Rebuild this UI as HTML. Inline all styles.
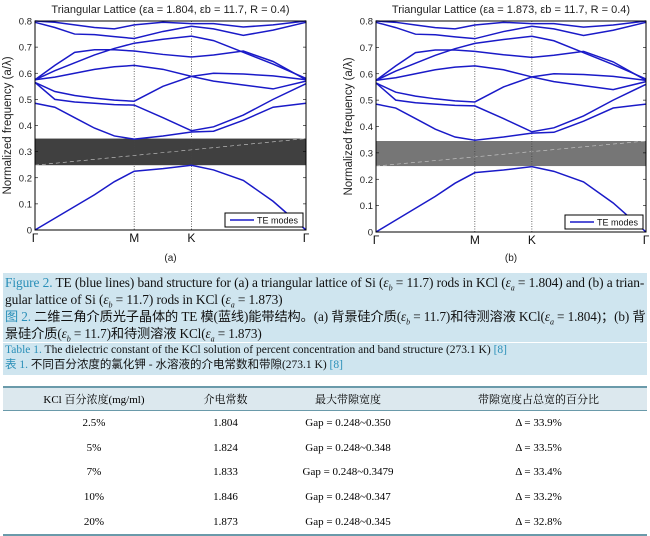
<!DOCTYPE html>
<html><head><meta charset="utf-8"><style>
body{margin:0;width:650px;height:525px;background:#fff;overflow:hidden;font-family:"Liberation Serif","Noto Serif CJK SC",serif;position:relative}
.cap{position:absolute;left:3px;width:640px;background:#cfe5ef;color:#111;padding:0 2px}
.ln{white-space:nowrap;height:17px;line-height:17px}
.blue{color:#2a8fb8}
.cjk{font-family:"Liberation Serif","Noto Sans CJK SC",sans-serif}
table{position:absolute;left:3px;top:386px;width:644px;border-collapse:collapse;font-size:11px}
th{background:#dce8ee;font-weight:normal;height:20px;border-top:2px solid #6a9aaa;border-bottom:1px solid #6a9aaa}
td{text-align:center;height:22.6px}
tr:last-child td{border-bottom:2px solid #6a9aaa}
sub{font-size:8px}
</style></head><body>
<svg id="chart" width="650" height="265" style="position:absolute;left:0;top:0" font-family="Liberation Sans, sans-serif"></svg>
<div class="cap" style="top:273px;height:68px;padding-top:1px;font-size:13.4px">
<div class="ln" style="letter-spacing:-0.1px"><span class="blue">Figure 2.</span> TE (blue lines) band structure for (a) a triangular lattice of Si (<i>ε<sub>b</sub></i> = 11.7) rods in KCl (<i>ε<sub>a</sub></i> = 1.804) and (b) a trian-</div>
<div class="ln" style="letter-spacing:-0.1px">gular lattice of Si (<i>ε<sub>b</sub></i> = 11.7) rods in KCl (<i>ε<sub>a</sub></i> = 1.873)</div>
<div class="ln cjk" style="font-size:13.2px;letter-spacing:-0.1px"><span class="blue">图 2.</span> 二维三角介质光子晶体的 TE 模(蓝线)能带结构。(a) 背景硅介质(<i>ε<sub>b</sub></i> = 11.7)和待测溶液 KCl(<i>ε<sub>a</sub></i> = 1.804)；(b) 背</div>
<div class="ln cjk" style="font-size:13.2px;letter-spacing:-0.1px">景硅介质(<i>ε<sub>b</sub></i> = 11.7)和待测溶液 KCl(<i>ε<sub>a</sub></i> = 1.873)</div>
</div>
<div class="cap" style="top:343px;height:32px;font-size:11.5px">
<div class="ln" style="height:15px;line-height:15px"><span class="blue">Table 1.</span> The dielectric constant of the KCl solution of percent concentration and band structure (273.1 K) <span class="blue">[8]</span></div>
<div class="ln cjk" style="height:15px;line-height:15px"><span class="blue">表 1.</span> 不同百分浓度的氯化钾 - 水溶液的介电常数和带隙(273.1 K) <span class="blue">[8]</span></div>
</div>
<table>
<tr><th>KCl 百分浓度(mg/ml)</th><th>介电常数</th><th>最大带隙宽度</th><th>带隙宽度占总宽的百分比</th></tr>
<tr><td>2.5%</td><td>1.804</td><td>Gap = 0.248~0.350</td><td>Δ = 33.9%</td></tr>
<tr><td>5%</td><td>1.824</td><td>Gap = 0.248~0.348</td><td>Δ = 33.5%</td></tr>
<tr><td>7%</td><td>1.833</td><td>Gap = 0.248~0.3479</td><td>Δ = 33.4%</td></tr>
<tr><td>10%</td><td>1.846</td><td>Gap = 0.248~0.347</td><td>Δ = 33.2%</td></tr>
<tr><td>20%</td><td>1.873</td><td>Gap = 0.248~0.345</td><td>Δ = 32.8%</td></tr>
</table>
<script>
const kPoints=[0,0.2,0.4,0.6,0.8,1,1.29,1.577,1.8,2.1,2.4,2.732];
const symLabels=["Γ","M","K","Γ"];
const symPos=[0,1,1.577,2.732];
const yTicks=[0,0.1,0.2,0.3,0.4,0.5,0.6,0.7,0.8];
const b1=[0,0.045,0.09,0.135,0.185,0.225,0.235,0.248,0.23,0.19,0.11,0];
const b2=[0.485,0.47,0.43,0.39,0.36,0.348,0.36,0.375,0.378,0.42,0.47,0.485];
const b3=[0.565,0.5,0.49,0.485,0.48,0.478,0.43,0.38,0.395,0.44,0.5,0.56];
const b4=[0.565,0.53,0.515,0.505,0.497,0.493,0.55,0.588,0.57,0.555,0.54,0.57];
const b5=[0.575,0.585,0.6,0.615,0.625,0.63,0.615,0.588,0.6,0.597,0.59,0.575];
const b6=[0.575,0.63,0.68,0.69,0.69,0.685,0.672,0.662,0.67,0.685,0.645,0.575];
const b7=[0.575,0.61,0.64,0.67,0.695,0.715,0.73,0.742,0.725,0.68,0.635,0.58];
const b8=[0.795,0.775,0.75,0.748,0.74,0.733,0.76,0.78,0.77,0.745,0.765,0.795];
const b9=[0.8,0.795,0.785,0.775,0.77,0.785,0.795,0.79,0.79,0.777,0.785,0.8];
const bands=[b1,b2,b3,b4,b5,b6,b7,b8,b9];
const epsA=["1.804","1.873"];
const gapLo=[0.248,0.25];
const gapHi=[0.35,0.345];
const panels=[{x0:35,x1:306,y0:21,y1:230,fill:"#404040",lab:"(a)"},{x0:376,x1:646,y0:21,y1:232,fill:"#767676",lab:"(b)"}];
const svg=document.getElementById('chart');
const NS="http://www.w3.org/2000/svg";
function mk(t,a,p){const e=document.createElementNS(NS,t);for(const k in a)e.setAttribute(k,a[k]);(p||svg).appendChild(e);return e;}
panels.forEach((P,i)=>{
 const sx=k=>P.x0+k/2.732*(P.x1-P.x0);
 const sy=f=>P.y1-f/0.8*(P.y1-P.y0);
 const g=mk('g',{});
 
 
 const t=mk('text',{x:(P.x0+P.x1)/2,y:13,'text-anchor':'middle','font-size':11,fill:'#222'},g);
 t.textContent='Triangular Lattice (εa = '+epsA[i]+', εb = 11.7, R = 0.4)';
 
 
 const gap=mk('rect',{x:P.x0,y:sy(gapHi[i]),width:P.x1-P.x0,height:sy(gapLo[i])-sy(gapHi[i]),fill:P.fill},g);
 
 
 mk('line',{x1:P.x0,y1:sy(gapLo[i]),x2:P.x1,y2:sy(gapHi[i]),stroke:'#ccc','stroke-width':0.6,'stroke-dasharray':'4 3'},g);
 symPos.forEach((k,j)=>{
  if(j>0&&j<3) mk('line',{x1:sx(k),y1:P.y0,x2:sx(k),y2:P.y1,stroke:'#444','stroke-width':0.8,'stroke-dasharray':'1 1.5'},g);
  const l=mk('text',{x:sx(k),y:P.y1+12,'text-anchor':'middle','font-size':12,fill:'#111'},g);
  l.textContent=symLabels[j];
  
  
 });
 yTicks.forEach(v=>{
  const l=mk('text',{x:P.x0-3,y:sy(v)+3.5,'text-anchor':'end','font-size':9.5,fill:'#222'},g);
  l.textContent=v===0?'0':v.toFixed(1);
  
  
  mk('line',{x1:P.x0,y1:sy(v),x2:P.x0+3,y2:sy(v),stroke:'#000','stroke-width':0.6},g);
  mk('line',{x1:P.x1,y1:sy(v),x2:P.x1-3,y2:sy(v),stroke:'#000','stroke-width':0.6},g);
 });
 bands.forEach((b,j)=>{
  const p=mk('polyline',{points:b.map((v,n)=>sx(kPoints[n])+','+sy(v)).join(' '),fill:'none',stroke:'#1a1ac8','stroke-width':1.5},g);
  
  
 });
 mk('rect',{x:P.x0,y:P.y0,width:P.x1-P.x0,height:P.y1-P.y0,fill:'none',stroke:'#000','stroke-width':1},g);
 const yl=mk('text',{transform:'translate('+(P.x0-24)+','+((P.y0+P.y1)/2)+') rotate(-90)','text-anchor':'middle','font-size':11.5,fill:'#222'},g);
 yl.textContent='Normalized frequency (a/λ)';
 
 
 const lg=mk('g',{},g);
 
 
 mk('rect',{x:P.x1-81,y:P.y1-17,width:78,height:14,fill:'#fff',stroke:'#000','stroke-width':1},lg);
 mk('line',{x1:P.x1-76,y1:P.y1-10,x2:P.x1-52,y2:P.y1-10,stroke:'#1a1ac8','stroke-width':1.5},lg);
 const lt=mk('text',{x:P.x1-49,y:P.y1-6.5,'font-size':9,fill:'#111'},lg);
 lt.textContent='TE modes';
 const sl=mk('text',{x:(P.x0+P.x1)/2,y:261,'text-anchor':'middle','font-size':10,fill:'#222'},g);
 sl.textContent=P.lab;
});
</script>
</body></html>
